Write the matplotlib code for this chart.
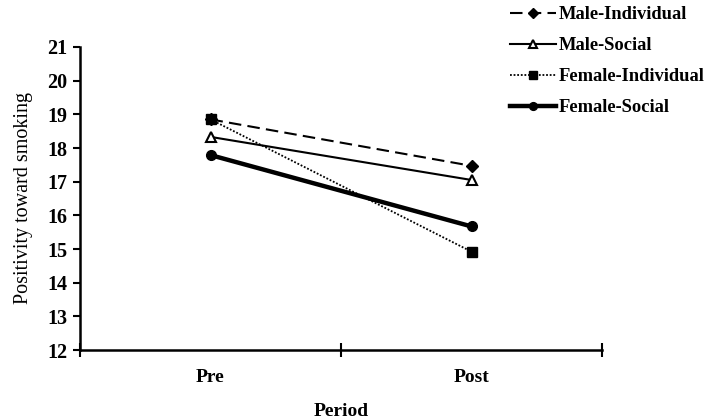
import matplotlib
matplotlib.use("Agg")
import matplotlib.pyplot as plt

periods = ["Pre", "Post"]
male_individual = [18.85, 17.47]
male_social = [18.33, 17.05]
female_individual = [18.85, 14.92]
female_social = [17.79, 15.67]
y_ticks = [12, 13, 14, 15, 16, 17, 18, 19, 20, 21]

plt.rcParams['font.family'] = ['Liberation Serif', 'DejaVu Serif']

fig = plt.figure(figsize=(7.08, 4.2), dpi=100)
ax = fig.add_axes([80/708, 70/420, 522/708, 303/420])

xs = [0.5, 1.5]
ax.plot(xs, male_individual, color='black', lw=1.5, ls=(0, (6, 3)), marker='D', ms=6,
        mfc='black', mec='black', label='Male-Individual')
ax.plot(xs, male_social, color='black', lw=1.5, ls='-', marker='^', ms=7,
        mfc='white', mec='black', mew=1.5, label='Male-Social')
ax.plot(xs, female_individual, color='black', lw=1.3, ls=(0, (1, 1)), marker='s', ms=7,
        mfc='black', mec='black', label='Female-Individual')
ax.plot(xs, female_social, color='black', lw=3.2, ls='-', marker='o', ms=7,
        mfc='black', mec='black', label='Female-Social')

ax.set_xlim(0, 2)
ax.set_ylim(12, 21)
ax.set_yticks(y_ticks)
ax.set_yticklabels([str(v) for v in y_ticks], fontsize=14.5, fontweight='bold')
ax.set_xticks([0, 1, 2])
ax.set_xticklabels(['', '', ''])
ax.set_xticks(xs, minor=True)
ax.set_xticklabels(periods, minor=True, fontsize=14, fontweight='bold')
ax.tick_params(axis='x', which='major', direction='inout', length=10, width=1.5)
ax.tick_params(axis='x', which='minor', length=0, pad=14)
ax.tick_params(axis='y', direction='out', length=5, width=1.5, pad=4)

for s in ['top', 'right']:
    ax.spines[s].set_visible(False)
for s in ['left', 'bottom']:
    ax.spines[s].set_linewidth(1.8)

ax.set_ylabel('Positivity toward smoking', fontsize=14.5, labelpad=10)
ax.set_xlabel('Period', fontsize=14, fontweight='bold', labelpad=12)

leg = fig.legend(loc='upper left', bbox_to_anchor=(0.697, 1.025), frameon=False,
                 prop={'family': 'Liberation Serif', 'weight': 'bold', 'size': 13.3},
                 handlelength=2.5, handletextpad=0.15, labelspacing=0.76, markerscale=0.8)

fig.savefig('out.png', dpi=100)
